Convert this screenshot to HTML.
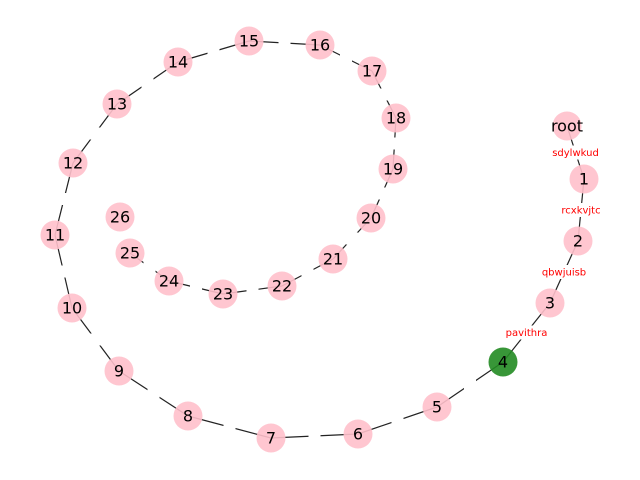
<!DOCTYPE html>
<html><head><meta charset="utf-8"><style>
body{margin:0;background:#fff}
svg{display:block;font-family:"DejaVu Sans","Liberation Sans",sans-serif}
</style></head><body>
<svg id="g" width="640" height="480"></svg>
<script>
const nodeLabels=["root","1","2","3","4","5","6","7","8","9","10","11","12","13","14","15","16","17","18","19","20","21","22","23","24","25","26"];
const nodeX=[567,584,578,550,503,437,358,271,188,119,72,55,73,117,178,249,320,372,396,393,371,333,282,223,169,130,120];
const nodeY=[126,179,241,303,362,407,434,438,416,371,308,235,163,104,62,41,45,71,118,169,218,259,286,294,281,253,217];
const edgeFrom=["root","1","2","3","4","5","6","7","8","9","10","11","12","13","14","15","16","17","18","19","20","21","22","23","24"];
const edgeTo=["1","2","3","4","5","6","7","8","9","10","11","12","13","14","15","16","17","18","19","20","21","22","23","24","25"];
const edgeLabelText={"root-1":"sdylwkud","1-2":"rcxkvjtc","2-3":"qbwjuisb","3-4":"pavithra"};
const highlight="4";
const NS="http://www.w3.org/2000/svg";
const svg=document.getElementById('g');
function pos(n){const i=nodeLabels.indexOf(n);return [nodeX[i],nodeY[i]];}
for(let k=0;k<edgeFrom.length;k++){
  const [x1,y1]=pos(edgeFrom[k]),[x2,y2]=pos(edgeTo[k]);
  const l=document.createElementNS(NS,'line');
  l.setAttribute('x1',x1);l.setAttribute('y1',y1);l.setAttribute('x2',x2);l.setAttribute('y2',y2);
  l.setAttribute('stroke','#222');l.setAttribute('stroke-width','1.2');
  
  
  svg.appendChild(l);
}
for(let k=0;k<edgeFrom.length;k++){
  const key=edgeFrom[k]+'-'+edgeTo[k];
  const [x1,y1]=pos(edgeFrom[k]),[x2,y2]=pos(edgeTo[k]);
  const mx=(x1+x2)/2,my=(y1+y2)/2;
  const txt=edgeLabelText[key]||"";
  const w=txt?txt.length*5.6+6:12, h=txt?14:12;
  const r=document.createElementNS(NS,'rect');
  r.setAttribute('x',mx-w/2);r.setAttribute('y',my-h/2);r.setAttribute('width',w);r.setAttribute('height',h);r.setAttribute('fill','#fff');
  
  
  svg.appendChild(r);
  if(!txt)continue;
  const t=document.createElementNS(NS,'text');
  t.setAttribute('x',mx);t.setAttribute('y',my+3.5);t.setAttribute('text-anchor','middle');
  t.setAttribute('font-size','10');t.setAttribute('fill','red');
  t.textContent=txt;
  
  
  svg.appendChild(t);
}
for(let i=0;i<nodeLabels.length;i++){
  const c=document.createElementNS(NS,'circle');
  c.setAttribute('cx',nodeX[i]);c.setAttribute('cy',nodeY[i]);c.setAttribute('r',14.5);
  c.setAttribute('fill',nodeLabels[i]===highlight?'#228b22':'#ffc0cb');
  c.setAttribute('fill-opacity','0.9');
  
  
  svg.appendChild(c);
  const t=document.createElementNS(NS,'text');
  t.setAttribute('x',nodeX[i]);t.setAttribute('y',nodeY[i]+5.5);t.setAttribute('text-anchor','middle');
  t.setAttribute('font-size','16');t.setAttribute('fill','#000');
  t.textContent=nodeLabels[i];
  
  
  svg.appendChild(t);
}
</script>
</body></html>
